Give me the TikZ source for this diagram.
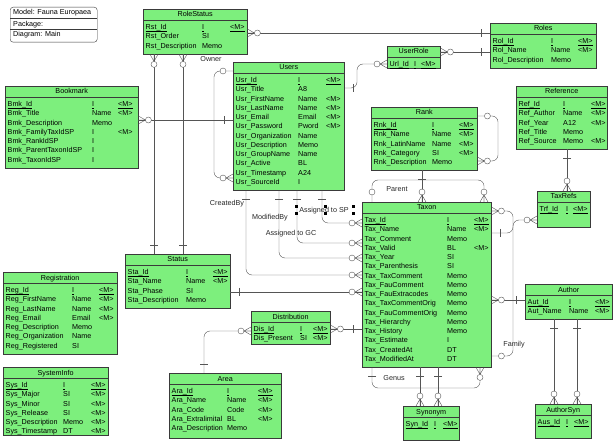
\documentclass[tikz,border=0pt]{standalone}
\usepackage{fontspec}
\setmainfont{Liberation Sans}
\usetikzlibrary{positioning, calc}
\definecolor{ergreen}{HTML}{7DEF7D}
\definecolor{erborder}{HTML}{3A3A3A}
\definecolor{erline}{HTML}{555555}
\newcommand{\tabfont}{\fontsize{7.2}{8}\selectfont}
% garis bawah untuk kunci
\newcommand{\garis}[1]{\setbox0\hbox{#1}\rlap{\rule[-1.4pt]{\wd0}{0.45pt}}\box0}

\tikzset{
  tabel/.style={draw=erborder, fill=ergreen, anchor=north west, inner sep=0pt},
  judul/.style={anchor=base, inner sep=0pt},
  isi/.style={anchor=base west, inner sep=0pt},
  rel/.style={draw=erline, rounded corners=6pt},
  ket/.style={inner sep=0pt, text=black!85},
  kaki/.pic={\draw[erline] (0,-4) -- (7,0) -- (0,4) (0,0) -- (7,0);
             \draw[erline, fill=white] (10,0) circle (3pt);},
  nol/.pic={\draw[erline, fill=white] (10,0) circle (3pt);},
  satu/.pic={\draw[erline] (9,-4) -- (9,4);},
}

% tabel: nama, x, y, lebar, tinggi, judul, kolom tipe, kolom M, baris
\newcommand{\tabel}[9]{%
  \node[tabel, minimum width=#4pt, minimum height=#5pt] (#1) at (#2,#3) {};
  \draw[erborder, line width=0.9pt] ([yshift=-11pt]#1.north west) -- ([yshift=-11pt]#1.north east);
  \node[judul] (#1-judul) at ([yshift=-8pt]#1.north) {#6};
  \foreach \a/\b/\c [count=\i] in {#9} {
    \ifnum\i=1\relax \let\kunci\garis \else \let\kunci\relax \fi
    \node[isi] (#1-\i-a) at ({#2+2.5},{#3+20.6+9.25*(\i-1)}) {\kunci{\a}};
    \node[isi] (#1-\i-b) at (#7,{#3+20.6+9.25*(\i-1)}) {\kunci{\b}};
    \node[isi] (#1-\i-c) at (#8,{#3+20.6+9.25*(\i-1)}) {\kunci{\c}};
  }%
}

\begin{document}
\begin{tikzpicture}[x=1pt, y=-1pt, font=\tabfont]
  \useasboundingbox (0,0) rectangle (615,443);
  % catatan model
  \node[draw=erborder, fill=white, rounded corners=3pt, minimum width=87pt, minimum height=35pt, anchor=north west, inner sep=0pt] (model) at (10,7) {};
  \draw[erborder] (model.west |- 0,18.5) -- (model.east |- 0,18.5);
  \draw[erborder] (model.west |- 0,29.5) -- (model.east |- 0,29.5);
  \node[isi] (model-1) at (13,15) {Model: Fauna Europaea};
  \node[isi] (model-2) at (13,27) {Package:};
  \node[isi] (model-3) at (13,37) {Diagram: Main};

  % tabel-tabel
  \tabel{rolestatus}{143}{9}{104}{45}{RoleStatus}{202}{230}{Rst\_Id/I/<M>, Rst\_Order/SI/, Rst\_Description/Memo/}
  \tabel{roles}{490}{23}{106}{45}{Roles}{551}{578}{Rol\_Id/I/<M>, Rol\_Name/Name/<M>, Rol\_Description/Memo/}
  \tabel{userrole}{387}{46}{53}{22}{UserRole}{414}{421}{Url\_Id/I/<M>}
  \tabel{users}{233}{62}{111}{128}{Users}{298}{326}{Usr\_Id/I/<M>, Usr\_Title/A8/, Usr\_FirstName/Name/<M>, Usr\_LastName/Name/<M>, Usr\_Email/Email/<M>, Usr\_Password/Pword/<M>, Usr\_Organization/Name/, Usr\_Description/Memo/, Usr\_GroupName/Name/, Usr\_Active/BL/, Usr\_Timestamp/A24/, Usr\_SourceId/I/}
  \tabel{bookmark}{5}{86}{133}{82}{Bookmark}{92}{118}{Bmk\_Id/I/<M>, Bmk\_Title/Name/<M>, Bmk\_Description/Memo/, Bmk\_FamilyTaxIdSP/I/<M>, Bmk\_RankIdSP/I/, Bmk\_ParentTaxonIdSP/I/, Bmk\_TaxonIdSP/I/}
  \tabel{rank}{371}{107}{106}{63}{Rank}{432}{459}{Rnk\_Id/I/<M>, Rnk\_Name/Name/<M>, Rnk\_LatinName/Name/<M>, Rnk\_Category/SI/<M>, Rnk\_Description/Memo/}
  \tabel{reference}{516}{86}{91}{63}{Reference}{563}{591}{Ref\_Id/I/<M>, Ref\_Author/Name/<M>, Ref\_Year/A12/<M>, Ref\_Title/Memo/, Ref\_Source/Memo/<M>}
  \tabel{taxrefs}{537}{191}{53}{36}{TaxRefs}{566}{573}{Trf\_Id/I/<M>}
  \tabel{taxon}{362}{202}{129}{165}{Taxon}{447}{474}{Tax\_Id/I/<M>, Tax\_Name/Name/<M>, Tax\_Comment/Memo/, Tax\_Valid/BL/<M>, Tax\_Year/SI/, Tax\_Parenthesis/SI/, Tax\_TaxComment/Memo/, Tax\_FauComment/Memo/, Tax\_FauExtracodes/Memo/, Tax\_TaxCommentOrig/Memo/, Tax\_FauCommentOrig/Memo/, Tax\_Hierarchy/Memo/, Tax\_History/Memo/, Tax\_Estimate/I/, Tax\_CreatedAt/DT/, Tax\_ModifiedAt/DT/}
  \tabel{status}{125}{254}{105}{54}{Status}{186}{213}{Sta\_Id/I/<M>, Sta\_Name/Name/<M>, Sta\_Phase/SI/, Sta\_Description/Memo/}
  \tabel{registration}{3}{272}{114}{82}{Registration}{72}{99}{Reg\_Id/I/<M>, Reg\_FirstName/Name/<M>, Reg\_LastName/Name/<M>, Reg\_Email/Email/<M>, Reg\_Description/Memo/, Reg\_Organization/Name/, Reg\_Registered/SI/}
  \tabel{distribution}{251}{311}{79}{33}{Distribution}{300}{313}{Dis\_Id/I/<M>, Dis\_Present/SI/<M>}
  \tabel{systeminfo}{3}{367}{105}{68}{SystemInfo}{63}{91}{Sys\_Id/I/<M>, Sys\_Major/SI/<M>, Sys\_Minor/SI/<M>, Sys\_Release/SI/<M>, Sys\_Description/Memo/<M>, Sys\_Timestamp/DT/<M>}
  \tabel{area}{169}{373}{112}{65}{Area}{227}{258}{Ara\_Id/I/<M>, Ara\_Name/Name/<M>, Ara\_Code/Code/<M>, Ara\_Extralimital/BL/<M>, Ara\_Description/Memo/}
  \tabel{author}{525}{284}{87}{35}{Author}{569}{595}{Aut\_Id/I/<M>, Aut\_Name/Name/<M>}
  \tabel{synonym}{403}{406}{56}{34}{Synonym}{434}{443}{Syn\_Id/I/<M>}
  \tabel{authorsyn}{535}{404}{56}{34}{AuthorSyn}{566}{574}{Aus\_Id/I/<M>}

  % rolestatus ke roles dan status
  \draw[rel] (rolestatus.east |- 0,33) -- (roles.west |- 0,33);
  \pic at (rolestatus.east |- 0,33) {kaki};
  \pic[rotate=180] at (roles.west |- 0,33) {satu};
  \foreach \px in {154,183} {
    \draw[rel] (rolestatus.south -| \px,0) -- (status.north -| \px,0);
    \pic[rotate=-90] at (rolestatus.south -| \px,0) {kaki};
    \pic[rotate=90] at (status.north -| \px,0) {satu};
  }
  % userrole
  \draw[rel] (userrole.east |- 0,52) -- (roles.west |- 0,52);
  \pic at (userrole.east |- 0,52) {kaki};
  \pic[rotate=180] at (roles.west |- 0,52) {satu};
  \draw[rel] (users.east |- 0,88) -- (357,88) -- (357,64) -- (userrole.west |- 0,64);
  \pic at (users.east |- 0,88) {satu};
  \pic[rotate=180] at (userrole.west |- 0,64) {kaki};
  % owner
  \draw[rel] (users.west |- 0,71) -- (214,71) -- (214,178) -- (users.west |- 0,178);
  \pic[rotate=180] at (users.west |- 0,71) {nol};
  \pic[rotate=180] at (users.west |- 0,178) {kaki};
  \node[ket] (owner) at (211,59) {Owner};
  % bookmark
  \draw[rel] (bookmark.east |- 0,120) -- (users.west |- 0,120);
  \pic at (bookmark.east |- 0,120) {kaki};
  \pic[rotate=180] at (users.west |- 0,120) {satu};
  % users ke taxon
  \foreach \px/\py in {322/223, 297/243, 279/258, 246/275} {
    \draw[rel] (users.south -| \px,0) -- (\px,\py) -- (taxon.west |- 0,\py);
    \pic[rotate=-90] at (users.south -| \px,0) {satu};
    \pic[rotate=180] at (taxon.west |- 0,\py) {kaki};
  }
  \node[ket] (createdby) at (227,204) {CreatedBy};
  \node[ket] (modifiedby) at (270,218) {ModifiedBy};
  \node[ket] (assignedgc) at (291,234) {Assigned to GC};
  \node[ket] (assignedsp) at (324,211) {Assigned to SP};
  \foreach \sx/\sy in {296/207, 325/207, 353/207, 296/214, 325/214, 353/214}
    \fill (\sx-1.5,\sy-1.5) rectangle ++(3,3);
  % status, area, distribution
  \draw[rel] (status.east |- 0,292) -- (taxon.west |- 0,292);
  \pic at (status.east |- 0,292) {satu};
  \pic[rotate=180] at (taxon.west |- 0,292) {kaki};
  \draw[rel] (area.north -| 204,0) -- (204,331) -- (distribution.west |- 0,331);
  \pic[rotate=90] at (area.north -| 204,0) {satu};
  \pic[rotate=180] at (distribution.west |- 0,331) {kaki};
  \draw[rel] (distribution.east |- 0,329) -- (taxon.west |- 0,329);
  \pic at (distribution.east |- 0,329) {kaki};
  \pic[rotate=180] at (taxon.west |- 0,329) {satu};
  % rank
  \draw[rel] (rank.east |- 0,116) -- (498,116) -- (498,161) -- (rank.east |- 0,161);
  \pic at (rank.east |- 0,116) {nol};
  \pic at (rank.east |- 0,161) {kaki};
  \draw[rel] (taxon.north -| 372,0) -- (372,180) -- (484,180) -- (taxon.north -| 484,0);
  \pic[rotate=90] at (taxon.north -| 372,0) {nol};
  \pic[rotate=90] at (taxon.north -| 484,0) {kaki};
  \node[ket] (parent) at (397,189) {Parent};
  \draw[rel] (rank.south -| 422,0) -- (taxon.north -| 422,0);
  \pic[rotate=-90] at (rank.south -| 422,0) {satu};
  \pic[rotate=90] at (taxon.north -| 422,0) {kaki};
  % reference, taxrefs
  \draw[rel] (reference.south -| 567,0) -- (taxrefs.north -| 567,0);
  \pic[rotate=-90] at (reference.south -| 567,0) {satu};
  \pic[rotate=90] at (taxrefs.north -| 567,0) {kaki};
  \draw[rel] (taxon.east |- 0,233) -- (513,233) -- (513,220) -- (taxrefs.west |- 0,220);
  \pic at (taxon.east |- 0,233) {satu};
  \pic[rotate=180] at (taxrefs.west |- 0,220) {kaki};
  % family
  \draw[rel] (taxon.east |- 0,211) -- (513,211) -- (513,356) -- (taxon.east |- 0,356);
  \pic at (taxon.east |- 0,211) {kaki};
  \pic at (taxon.east |- 0,356) {nol};
  \node[ket] (family) at (514,345) {Family};
  % author
  \draw[rel] (taxon.east |- 0,300) -- (author.west |- 0,300);
  \pic at (taxon.east |- 0,300) {kaki};
  \pic[rotate=180] at (author.west |- 0,300) {satu};
  \foreach \px in {554,577} {
    \draw[rel] (author.south -| \px,0) -- (authorsyn.north -| \px,0);
    \pic[rotate=-90] at (author.south -| \px,0) {satu};
    \pic[rotate=90] at (authorsyn.north -| \px,0) {kaki};
  }
  % synonym, genus
  \foreach \px in {420,438} {
    \draw[rel] (taxon.south -| \px,0) -- (synonym.north -| \px,0);
    \pic[rotate=-90] at (taxon.south -| \px,0) {satu};
    \pic[rotate=90] at (synonym.north -| \px,0) {kaki};
  }
  \draw[rel] (taxon.south -| 372,0) -- (372,388) -- (480,388) -- (taxon.south -| 480,0);
  \pic[rotate=-90] at (taxon.south -| 372,0) {satu};
  \pic[rotate=-90] at (taxon.south -| 480,0) {kaki};
  \node[ket] (genus) at (394,378) {Genus};
\end{tikzpicture}
\end{document}
